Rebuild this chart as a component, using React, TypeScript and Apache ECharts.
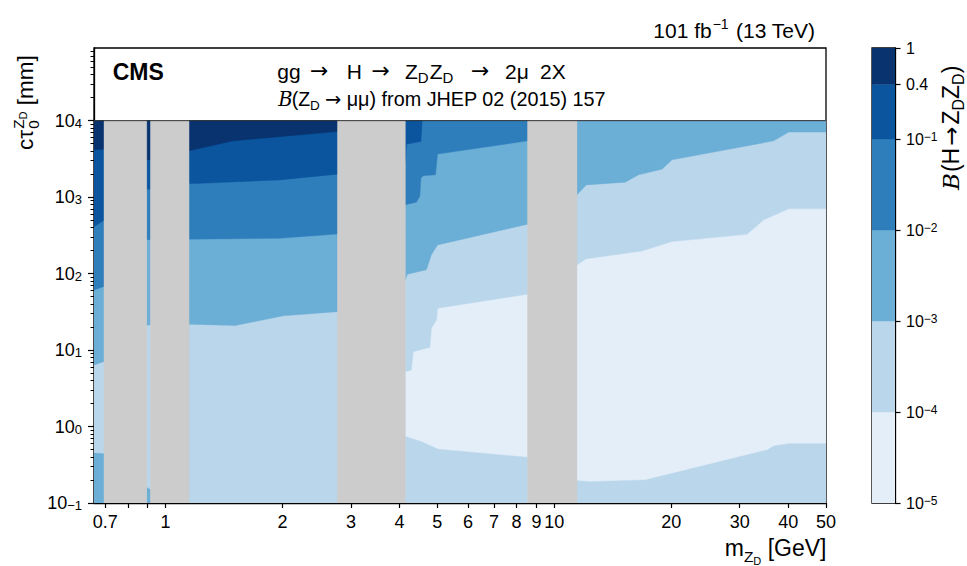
import React, { useEffect, useRef } from 'react';
import * as echarts from 'echarts';

// ---------------- data ----------------
const MASS_MIN = 0.655;
const MASS_MAX = 50;
const CTAU_MIN = 0.1;
const CTAU_DATA_MAX = 1e4;
const CTAU_AXIS_MAX_LOG = 4.95;

const xTickValues = [0.7, 0.8, 0.9, 1, 2, 3, 4, 5, 6, 7, 8, 9, 10, 20, 30, 40, 50];
const xLabelValues = [0.7, 1, 2, 3, 4, 5, 6, 7, 8, 9, 10, 20, 30, 40, 50];
const yMajorExps = [-1, 0, 1, 2, 3, 4];

const cbLevels = [1e-5, 1e-4, 1e-3, 1e-2, 1e-1, 0.4, 1];
const cbColors = ['#e3eef9', '#bad6eb', '#6baed6', '#2f7ebc', '#0b559f', '#08336e'];
const vetoColor = '#cccccc';

// excluded mass windows [GeV]
const vetoBands: [number, number][] = [[0.695, 0.895], [0.915, 1.15], [2.77, 4.14], [8.54, 11.44]];

// contour boundaries: [mass GeV, ctau mm]
// column 0.655–0.695 GeV
const a_top2 = [[0.655, 6.4], [0.695, 7.1]];
const a_top3 = [[0.655, 61], [0.695, 68]];
const a_top4 = [[0.655, 410], [0.695, 500]];
const a_top5 = [[0.655, 4150], [0.695, 4250]];
const a_bot2 = [[0.655, 0.45], [0.695, 0.44]];
// column 0.895–0.915 GeV
const b_top2 = [[0.895, 21], [0.915, 21.5]];
const b_top3 = [[0.895, 275], [0.915, 280]];
const b_top4 = [[0.895, 1270], [0.915, 1270]];
const b_top5 = [[0.895, 3050], [0.915, 3100]];
const b_bot2 = [[0.895, 0.16], [0.915, 0.15]];
// column 1.15–2.77 GeV
const c_top2 = [[1.15, 21.8], [1.51, 20.9], [2.01, 28], [2.77, 31.8]];
const c_top3 = [[1.15, 282], [1.97, 290], [2.77, 330]];
const c_top4 = [[1.15, 1490], [1.97, 1680], [2.77, 1995]];
const c_top5 = [[1.15, 4030], [1.495, 5440], [2.77, 7200]];
// column 4.14–8.54 GeV
const d_top1 = [[4.14, 5.2], [4.29, 5.5], [4.34, 9.5], [4.79, 10.9], [4.83, 19.3], [4.98, 24.8], [5.01, 35.3], [8.54, 53.8]];
const d_top2 = [[4.14, 82.7], [4.19, 98], [4.69, 112], [4.83, 176], [5.01, 237], [8.54, 443]];
const d_top3 = [[4.14, 792], [4.42, 859], [4.51, 1023], [4.54, 1770], [4.6, 1897], [4.95, 1955], [5.01, 3650], [8.54, 5440]];
const d_top4 = [[4.14, 2920], [4.17, 4930], [4.54, 5330], [4.575, 10000]];
const d_bot1 = [[4.14, 0.738], [4.55, 0.635], [5.03, 0.505], [8.54, 0.396]];
// column 11.44–50 GeV
const e_top1 = [[11.44, 130], [12.09, 156], [16.81, 198], [20.09, 262], [31.3, 327], [34.6, 504], [40.1, 702], [50, 702]];
const e_top2 = [[11.44, 1070], [12.09, 1445], [15.23, 1570], [16.48, 1955], [18.93, 2320], [20.09, 3070], [36.7, 5440], [40.1, 7080], [50, 7080]];
const e_bot1 = [[11.44, 0.196], [12.38, 0.19], [17.15, 0.2], [35.3, 0.494], [36.7, 0.557], [40.1, 0.597], [50, 0.597]];

const columns = [
  { range: [0.655, 0.695], floor: 1, tops: [[2, a_top2], [3, a_top3], [4, a_top4], [5, a_top5]], bottoms: [[2, a_bot2]] },
  { range: [0.895, 0.915], floor: 1, tops: [[2, b_top2], [3, b_top3], [4, b_top4], [5, b_top5]], bottoms: [[2, b_bot2]] },
  { range: [1.15, 2.77], floor: 1, tops: [[2, c_top2], [3, c_top3], [4, c_top4], [5, c_top5]], bottoms: [] },
  { range: [4.14, 8.54], floor: 0, tops: [[1, d_top1], [2, d_top2], [3, d_top3], [4, d_top4]], bottoms: [[1, d_bot1]] },
  { range: [11.44, 50], floor: 0, tops: [[1, e_top1], [2, e_top2]], bottoms: [[1, e_bot1]] },
] as { range: number[]; floor: number; tops: [number, number[][]][]; bottoms: [number, number[][]][] }[];

// ---------------- helpers ----------------
const SANS = "'Liberation Sans', Arial, Helvetica, sans-serif";
const DEJAVU = "'DejaVu Sans', sans-serif";
const SERIF = "'DejaVu Serif', 'Liberation Serif', serif";
const ARROW = '\u2192';
const lg = (v: number) => Math.log10(v);

let measureCtx: CanvasRenderingContext2D | null = null;
function measure(t: string, size: number, fam: string, italic = false, bold = false) {
  if (!measureCtx) measureCtx = document.createElement('canvas').getContext('2d');
  measureCtx!.font = `${italic ? 'italic ' : ''}${bold ? 'bold ' : ''}${size}px ${fam}`;
  return measureCtx!.measureText(t).width;
}

type Piece = { t: string; size: number; x?: number; dx?: number; dy?: number; fam?: string; italic?: boolean; bold?: boolean };
function layout(pieces: Piece[], x0: number, baseline: number) {
  let x = x0;
  const els: any[] = [];
  for (const p of pieces) {
    if (p.x !== undefined) x = p.x;
    x += p.dx ?? 0;
    const fam = p.fam ?? SANS;
    els.push({
      type: 'text',
      x,
      y: baseline + (p.dy ?? 0) - 0.35 * p.size,
      silent: true,
      style: {
        text: p.t, fontSize: p.size, fontFamily: fam,
        fontStyle: p.italic ? 'italic' : 'normal', fontWeight: p.bold ? 'bold' : 'normal',
        fill: '#000', align: 'left', verticalAlign: 'middle', textAlign: 'left', textVerticalAlign: 'middle',
      },
    });
    x += measure(p.t, p.size, fam, !!p.italic, !!p.bold);
  }
  return { els, width: x - x0 };
}

function buildRegions() {
  const regs: { pts: number[][]; color: string }[] = [];
  const rect = (m0: number, m1: number, c0: number, c1: number) => [[m0, c0], [m1, c0], [m1, c1], [m0, c1]];
  regs.push({ pts: rect(MASS_MIN, MASS_MAX, CTAU_MIN, CTAU_DATA_MAX), color: cbColors[0] });
  for (const col of columns) {
    regs.push({ pts: rect(col.range[0], col.range[1], CTAU_MIN, CTAU_DATA_MAX), color: cbColors[col.floor] });
    for (const [lev, curve] of col.tops) {
      const pts = [...curve, [curve[curve.length - 1][0], CTAU_DATA_MAX], [curve[0][0], CTAU_DATA_MAX]];
      regs.push({ pts, color: cbColors[lev] });
    }
    for (const [lev, curve] of col.bottoms) {
      const pts = [...curve, [curve[curve.length - 1][0], CTAU_MIN], [curve[0][0], CTAU_MIN]];
      regs.push({ pts, color: cbColors[lev] });
    }
  }
  for (const [m0, m1] of vetoBands) regs.push({ pts: rect(m0, m1, CTAU_MIN, CTAU_DATA_MAX), color: vetoColor });
  return regs;
}

const expText = (e: number) => (e < 0 ? '\u2212' + -e : String(e));

function buildOption() {
  const regions = buildRegions();
  const minorY: number[] = [];
  for (let d = -1; d <= 4; d++) for (let k = 2; k <= 9; k++) {
    const v = lg(k) + d;
    if (v < CTAU_AXIS_MAX_LOG) minorY.push(v);
  }
  const axisLine = { show: true, onZero: false, lineStyle: { color: '#000', width: 1.3 } };

  // ---- texts ----
  const graphics: any[] = [];
  graphics.push(...layout([{ t: 'CMS', size: 23, bold: true }], 112.7, 80).els);
  graphics.push(...layout([
    { t: 'gg', size: 21, x: 277.3 },
    { t: ARROW, size: 22, x: 310, fam: DEJAVU },
    { t: 'H', size: 21, x: 346.7 },
    { t: ARROW, size: 22, x: 371.5, fam: DEJAVU },
    { t: 'Z', size: 21, x: 405 },
    { t: 'D', size: 15, dy: 4 },
    { t: 'Z', size: 21, dx: 1 },
    { t: 'D', size: 15, dy: 4 },
    { t: ARROW, size: 22, x: 471, fam: DEJAVU },
    { t: '2\u03bc', size: 21, x: 505 },
    { t: '2X', size: 21, x: 540 },
  ], 277.3, 78.5).els);
  graphics.push(...layout([
    { t: 'B', size: 19.5, fam: SERIF, italic: true },
    { t: '(Z', size: 19.5, x: 291.7 },
    { t: 'D', size: 13.5, dy: 4 },
    { t: ARROW, size: 19.5, x: 325, fam: DEJAVU },
    { t: '\u03bc\u03bc) from JHEP 02 (2015) 157', size: 19.8, x: 346.7 },
  ], 278.3, 106).els);
  graphics.push(...layout([
    { t: '101 fb', size: 21 },
    { t: '\u22121', size: 14, dy: -9, dx: 1 },
    { t: '(13 TeV)', size: 21, x: 736 },
  ], 653.3, 37.5).els);

  // y axis title (rotated)
  {
    const S = 22.5, s = 15.5, ss = 11;
    const w1 = measure('c\u03c4', S, SANS);
    const wZ = measure('Z', s, SANS) + measure('D', ss, SANS);
    const w0 = measure('0', s, SANS);
    const lay = layout([
      { t: 'c\u03c4', size: S, x: 0 },
      { t: '0', size: s, x: w1 + 1, dy: 5 },
      { t: 'Z', size: s, x: w1 + 1, dy: -10 },
      { t: 'D', size: ss, dy: -7 },
      { t: ' [mm]', size: S, x: w1 + 1 + Math.max(wZ, w0) },
    ], 0, 0);
    graphics.push({ type: 'group', x: 33.5, y: 150, rotation: Math.PI / 2, children: lay.els });
  }
  // x axis title
  {
    const pcs: Piece[] = [
      { t: 'm', size: 23 },
      { t: 'Z', size: 15.5, dy: 6 },
      { t: 'D', size: 11, dy: 9 },
      { t: ' [GeV]', size: 23 },
    ];
    const w = layout(pcs, 0, 0).width;
    graphics.push(...layout(pcs, 826.5 - w, 556).els);
  }
  // colour bar title (rotated)
  {
    const lay = layout([
      { t: 'B', size: 23, fam: SERIF, italic: true },
      { t: '(H', size: 23, dx: 1 },
      { t: ARROW, size: 23, fam: DEJAVU, dx: 2 },
      { t: 'Z', size: 23, dx: 2 },
      { t: 'D', size: 16, dy: 5 },
      { t: 'Z', size: 23 },
      { t: 'D', size: 16, dy: 5 },
      { t: ')', size: 23 },
    ], 0, 0);
    graphics.push({ type: 'group', x: 959, y: 190, rotation: Math.PI / 2, children: lay.els });
  }

  const richMain = {
    b: { fontSize: 18, fontFamily: SANS, color: '#000', lineHeight: 18, padding: [13, 0, 0, 0], verticalAlign: 'bottom' },
    s: { fontSize: 13, fontFamily: SANS, color: '#000', lineHeight: 13, padding: [5, 0, 0, 0], verticalAlign: 'top' },
  };
  const richCb = {
    b: { fontSize: 16, fontFamily: SANS, color: '#000', lineHeight: 16, padding: [8, 0, 0, 0], verticalAlign: 'bottom' },
    s: { fontSize: 12, fontFamily: SANS, color: '#000', lineHeight: 12, padding: [0, 0, 0, 0], verticalAlign: 'top' },
  };

  return {
    animation: false,
    backgroundColor: '#fff',
    grid: [
      { left: 94, top: 48, width: 732, height: 455, show: true, borderColor: '#000', borderWidth: 1.3, containLabel: false, outerBoundsMode: 'none' },
      { left: 872, top: 48, width: 23, height: 455, show: true, borderColor: '#000', borderWidth: 1.3, containLabel: false, outerBoundsMode: 'none' },
    ],
    xAxis: [
      {
        gridIndex: 0, type: 'value', min: lg(MASS_MIN), max: lg(MASS_MAX), axisLine,
        axisTick: { show: true, customValues: xTickValues.map(lg), length: 5, inside: false, lineStyle: { color: '#000', width: 1.2 } },
        axisLabel: {
          show: true, customValues: xLabelValues.map(lg), fontSize: 18, fontFamily: SANS, color: '#000', margin: 10, lineHeight: 18,
          formatter: (v: number) => String(parseFloat(Math.pow(10, v).toPrecision(2))),
        },
        splitLine: { show: false },
      },
      { gridIndex: 1, type: 'value', min: 0, max: 1, show: false },
    ],
    yAxis: [
      {
        gridIndex: 0, type: 'value', position: 'left', min: -1, max: CTAU_AXIS_MAX_LOG, axisLine,
        axisTick: { show: true, customValues: yMajorExps, length: 6, inside: false, lineStyle: { color: '#000', width: 1.2 } },
        axisLabel: {
          show: true, customValues: yMajorExps, margin: 12, rich: richMain,
          formatter: (v: number) => `{b|10}{s|${expText(Math.round(v))}}`,
        },
        splitLine: { show: false },
      },
      {
        gridIndex: 0, type: 'value', position: 'left', min: -1, max: CTAU_AXIS_MAX_LOG,
        axisLine: { show: false, onZero: false },
        axisTick: { show: true, customValues: minorY, length: 3.5, inside: false, lineStyle: { color: '#000', width: 1 } },
        axisLabel: { show: false }, splitLine: { show: false },
      },
      {
        gridIndex: 1, type: 'value', position: 'right', min: lg(cbLevels[0]), max: lg(cbLevels[cbLevels.length - 1]),
        axisLine: { show: true, onZero: false, lineStyle: { color: '#000', width: 1.3 } },
        axisTick: { show: true, customValues: cbLevels.map(lg), length: 5.5, inside: false, lineStyle: { color: '#000', width: 1.2 } },
        axisLabel: {
          show: true, customValues: cbLevels.map(lg), margin: 11, rich: richCb,
          formatter: (v: number) => {
            const e = Math.round(v);
            if (Math.abs(v - e) < 1e-6) return e === 0 ? '{b|1}' : `{b|10}{s|${expText(e)}}`;
            return `{b|${parseFloat(Math.pow(10, v).toPrecision(2))}}`;
          },
        },
        splitLine: { show: false },
      },
    ],
    series: [
      {
        type: 'custom', xAxisIndex: 0, yAxisIndex: 0, clip: true, silent: true,
        data: regions.map((r, i) => [lg(r.pts[0][0]), lg(r.pts[0][1]), i]),
        renderItem: (params: any, api: any) => {
          const r = regions[params.dataIndex];
          const points = r.pts.map((p) => api.coord([lg(p[0]), lg(p[1])]));
          return { type: 'polygon', shape: { points }, style: { fill: r.color, stroke: r.color, lineWidth: 0.4 } };
        },
      },
      {
        type: 'line', xAxisIndex: 0, yAxisIndex: 0, symbol: 'none', silent: true,
        data: [[lg(MASS_MIN), lg(CTAU_DATA_MAX)], [lg(MASS_MAX), lg(CTAU_DATA_MAX)]],
        lineStyle: { color: '#333', width: 1 },
      },
      {
        type: 'custom', xAxisIndex: 1, yAxisIndex: 2, clip: true, silent: true,
        data: cbColors.map((c, i) => [0, lg(cbLevels[i]), i]),
        renderItem: (params: any, api: any) => {
          const i = params.dataIndex;
          const p0 = api.coord([0, lg(cbLevels[i])]);
          const p1 = api.coord([1, lg(cbLevels[i + 1])]);
          return { type: 'rect', shape: { x: p0[0], y: p1[1], width: p1[0] - p0[0], height: p0[1] - p1[1] }, style: { fill: cbColors[i], stroke: cbColors[i], lineWidth: 0.4 } };
        },
      },
    ],
    graphic: graphics,
  };
}

export default function App() {
  const ref = useRef<HTMLDivElement>(null);
  useEffect(() => {
    if (!ref.current) return;
    const chart = echarts.init(ref.current, undefined, { renderer: 'svg' });
    chart.setOption(buildOption() as any);
    return () => chart.dispose();
  }, []);
  return <div ref={ref} style={{ position: 'absolute', left: 0, top: 0, width: 967, height: 566, background: '#fff' }} />;
}
